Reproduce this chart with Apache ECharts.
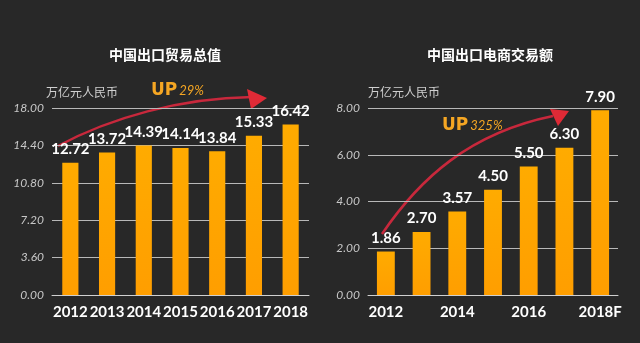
<!DOCTYPE html>
<html><head><meta charset="utf-8">
<script src="https://cdn.jsdelivr.net/npm/echarts@6/dist/echarts.min.js"></script>
<style>html,body{margin:0;padding:0;background:#282828;}#c{width:640px;height:343px;}</style>
</head><body><div id="c"></div>
<script>
var leftTitle = '中国出口贸易总值';
var rightTitle = '中国出口电商交易额';
var unitName = '万亿元人民币';
var leftYears = ['2012','2013','2014','2015','2016','2017','2018'];
var leftValues = [12.72, 13.72, 14.39, 14.14, 13.84, 15.33, 16.42];
var rightYears = ['2012','2013','2014','2015','2016','2017','2018F'];
var rightValues = [1.86, 2.70, 3.57, 4.50, 5.50, 6.30, 7.90];
var leftUp = '29%';
var rightUp = '325%';

var chart = echarts.init(document.getElementById('c'));
var axisLabelStyle = {color:'#c8c8c8', fontStyle:'italic', fontFamily:'Lato', fontSize:12, margin:8, formatter:function(v){return v.toFixed(2);}};
var xLabelStyle = {color:'#ffffff', fontFamily:'Lato', fontSize:15, fontWeight:'bold', margin:10};
var gridLine = {show:true, lineStyle:{color:'#b8b8b8', width:1}};
var valueLabel = {show:true, position:'top', distance:6, color:'#ffffff', fontFamily:'Lato', fontSize:15, fontWeight:'bold', formatter:function(p){return p.value.toFixed(2);}};
var barColor = new echarts.graphic.LinearGradient(0,0,0,1,[{offset:0,color:'#ffab00'},{offset:1,color:'#ff9e00'}]);

chart.setOption({
  backgroundColor:'#282828',
  animation:false,
  title:[
    {text:leftTitle, left:160, top:43, textAlign:'center', textStyle:{color:'#ffffff', fontSize:14, fontWeight:'bold', fontFamily:'Noto Sans CJK SC'}},
    {text:rightTitle, left:485, top:43, textAlign:'center', textStyle:{color:'#ffffff', fontSize:14, fontWeight:'bold', fontFamily:'Noto Sans CJK SC'}}
  ],
  grid:[
    {left:52, right:331, top:108, bottom:48},
    {left:368, right:22, top:108, bottom:48}
  ],
  xAxis:[
    {type:'category', gridIndex:0, data:leftYears, axisTick:{show:false}, axisLine:{lineStyle:{color:'#d0d0d0'}}, axisLabel:Object.assign({interval:0}, xLabelStyle)},
    {type:'category', gridIndex:1, data:rightYears, axisTick:{show:false}, axisLine:{lineStyle:{color:'#d0d0d0'}}, axisLabel:Object.assign({interval:1}, xLabelStyle)}
  ],
  yAxis:[
    {type:'value', gridIndex:0, min:0, max:18, interval:3.6, axisLine:{show:false}, axisTick:{show:false}, splitLine:gridLine, axisLabel:axisLabelStyle,
     name:unitName, nameLocation:'end', nameGap:10, nameTextStyle:{color:'#d0d0d0', fontSize:12, align:'left', padding:[0,0,0,-6], fontFamily:'Noto Sans CJK SC'}},
    {type:'value', gridIndex:1, min:0, max:8, interval:2, axisLine:{show:false}, axisTick:{show:false}, splitLine:gridLine, axisLabel:axisLabelStyle,
     name:unitName, nameLocation:'end', nameGap:10, nameTextStyle:{color:'#d0d0d0', fontSize:12, align:'left', padding:[0,0,0,0], fontFamily:'Noto Sans CJK SC'}}
  ],
  series:[
    {type:'bar', xAxisIndex:0, yAxisIndex:0, data:leftValues, barWidth:'44%', itemStyle:{color:barColor}, label:valueLabel},
    {type:'bar', xAxisIndex:1, yAxisIndex:1, data:rightValues, barWidth:'50%', itemStyle:{color:barColor}, label:valueLabel}
  ],
  graphic:[
    {type:'bezierCurve', shape:{x1:58, y1:146, cpx1:110, cpy1:118, cpx2:180, cpy2:98, x2:252, y2:97}, style:{stroke:'#c8283c', lineWidth:2.5, fill:null}},
    {type:'polygon', shape:{points:[[247,89],[267,98],[251,109]]}, style:{fill:'#e02a36'}},
    {type:'bezierCurve', shape:{x1:382, y1:234, cpx1:420, cpy1:178, cpx2:470, cpy2:133, x2:553, y2:116}, style:{stroke:'#c8283c', lineWidth:2.5, fill:null}},
    {type:'polygon', shape:{points:[[550,109],[569,111],[558,126]]}, style:{fill:'#e02a36'}},
    {type:'text', left:151, top:82, style:{text:'{a|UP}{b|' + leftUp + '}', rich:{a:{fill:'#f5a623', fontSize:17, fontWeight:'bold', fontFamily:'DejaVu Sans'}, b:{fill:'#f5a623', fontSize:13, fontStyle:'italic', fontFamily:'Lato', padding:[0,0,0,2]}}}},
    {type:'text', left:442, top:117, style:{text:'{a|UP}{b|' + rightUp + '}', rich:{a:{fill:'#f5a623', fontSize:17, fontWeight:'bold', fontFamily:'DejaVu Sans'}, b:{fill:'#f5a623', fontSize:13, fontStyle:'italic', fontFamily:'Lato', padding:[0,0,0,2]}}}}
  ]
});
</script></body></html>
